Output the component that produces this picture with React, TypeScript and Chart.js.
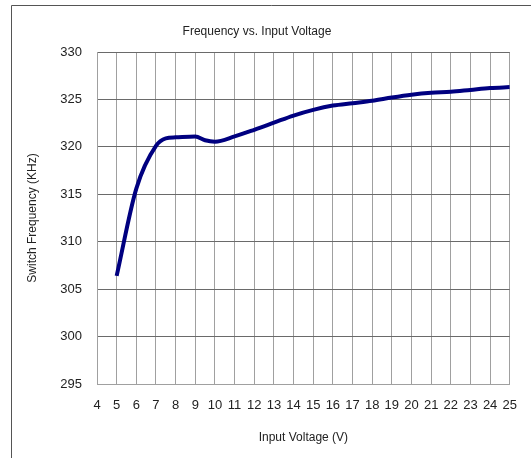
import React, { useEffect, useRef } from "react";
import { Chart, registerables } from "chart.js";

Chart.register(...registerables);

const chartTitle = "Frequency vs. Input Voltage";
const xAxisTitle = "Input Voltage (V)";
const yAxisTitle = "Switch Frequency (KHz)";

const inputVoltage = [5, 6, 7, 7.5, 8, 9, 9.5, 10, 11, 12, 13, 14, 15, 16, 17, 18, 19, 20, 21, 22, 23, 24, 25];
const switchFrequency = [306.4, 315.6, 320.1, 320.9, 321.0, 321.1, 320.7, 320.55, 321.1, 321.8, 322.55, 323.3, 323.9, 324.35, 324.6, 324.85, 325.2, 325.5, 325.7, 325.8, 326.0, 326.2, 326.3];

const xMin = 4;
const xMax = 25;
const yMin = 295;
const yMax = 330;
const yStep = 5;

const FONT = "'Liberation Sans', Arial, sans-serif";

const framePlugin = {
  id: "frame",
  beforeDraw(chart: any) {
    const ctx = chart.ctx;
    ctx.save();
    ctx.strokeStyle = "#555555";
    ctx.lineWidth = 1;
    ctx.beginPath();
    ctx.moveTo(11.5, chart.height);
    ctx.lineTo(11.5, 5.5);
    ctx.lineTo(chart.width, 5.5);
    ctx.stroke();
    ctx.restore();
  },
};

export default function App() {
  const ref = useRef<HTMLCanvasElement | null>(null);

  useEffect(() => {
    document.body.style.margin = "0";
    const canvas = ref.current;
    if (!canvas) return;
    const points = inputVoltage.map((v, i) => ({ x: v, y: switchFrequency[i] }));
    const chart = new Chart(canvas, {
      type: "line",
      data: {
        datasets: [
          {
            data: points,
            borderColor: "#000080",
            borderWidth: 4,
            pointRadius: 0,
            fill: false,
            cubicInterpolationMode: "monotone",
          },
        ],
      },
      options: {
        responsive: false,
        animation: false,
        devicePixelRatio: 1,
        layout: { padding: { left: 0, right: 17, top: 0, bottom: 0 } },
        plugins: {
          legend: { display: false },
          tooltip: { enabled: false },
          title: {
            display: true,
            text: chartTitle,
            color: "#222222",
            font: { family: FONT, size: 12, weight: "normal" },
            padding: { top: 24, bottom: 13.6 },
          },
        },
        scales: {
          x: {
            type: "linear",
            min: xMin,
            max: xMax,
            afterFit: (s: any) => {
              s.height = 74;
            },
            ticks: {
              stepSize: 1,
              color: "#222222",
              font: { family: FONT, size: 13 },
              padding: 14,
              maxRotation: 0,
              autoSkip: false,
            },
            grid: { color: "#a0a0a0", drawTicks: false, lineWidth: 1 },
            border: { color: "#a0a0a0" },
            title: {
              display: true,
              text: xAxisTitle,
              color: "#222222",
              font: { family: FONT, size: 12 },
              padding: { top: 4, bottom: 13 },
            },
          },
          y: {
            type: "linear",
            min: yMin,
            max: yMax,
            afterFit: (s: any) => {
              s.width = 97;
            },
            ticks: {
              stepSize: yStep,
              color: "#222222",
              font: { family: FONT, size: 13 },
              padding: 15,
            },
            grid: { color: "#6a6a6a", drawTicks: false, lineWidth: 1 },
            border: { color: "#a0a0a0" },
            title: {
              display: true,
              text: yAxisTitle,
              color: "#222222",
              font: { family: FONT, size: 12 },
              padding: { top: 25, bottom: 25 },
            },
          },
        },
      },
      plugins: [framePlugin],
    } as any);
    return () => chart.destroy();
  }, []);

  return <canvas ref={ref} width={531} height={458} style={{ display: "block" }} />;
}
